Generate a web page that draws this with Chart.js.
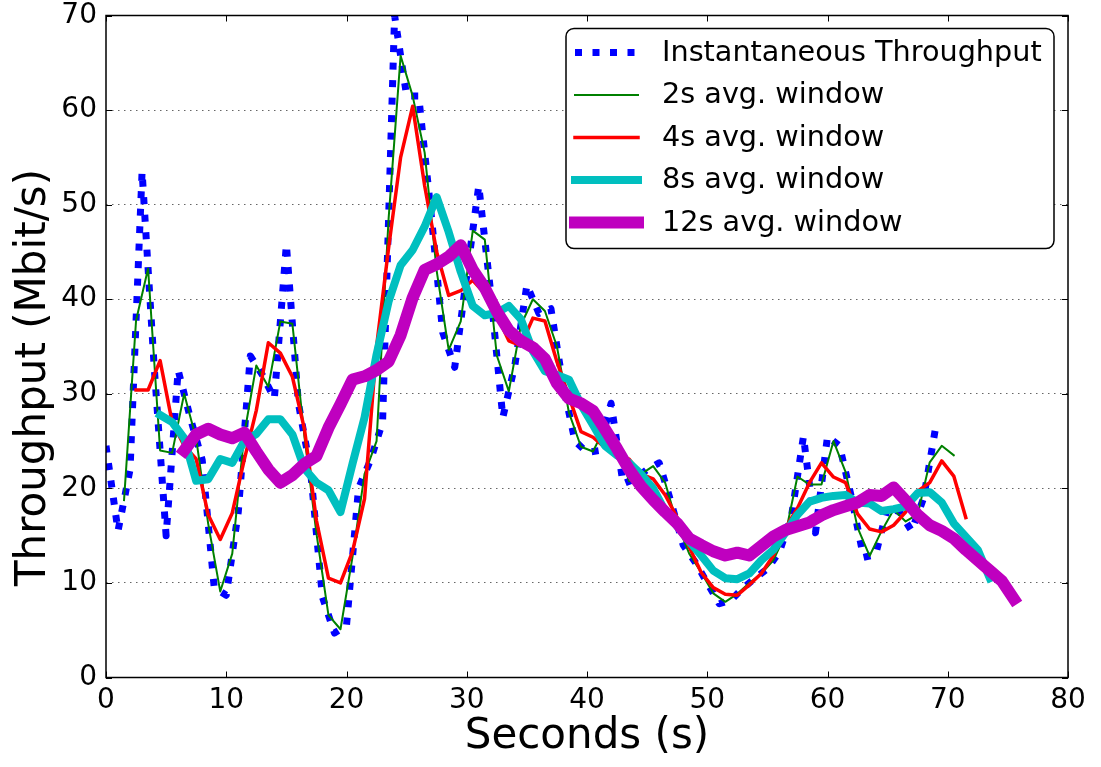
<!DOCTYPE html>
<html>
<head>
<meta charset="utf-8">
<script src="https://cdn.jsdelivr.net/npm/chart.js@4.4.1/dist/chart.umd.min.js"></script>
<style>
  html, body { margin: 0; padding: 0; background: #ffffff; }
  #c { display: block; }
</style>
</head>
<body>
<canvas id="c" width="1101" height="767"></canvas>
<script>
// Throughput samples, one per second (Mbit/s)
const instantStart = 0;
const instantValues = [
  24.5, 15.5, 22, 53.5, 33, 15, 32.5, 27.5, 23, 9.5,
  8.7, 17.5, 34, 32, 29.5, 45.8, 29, 22, 8.5, 4.7,
  5.5, 20, 23, 27, 70, 61.5, 61.5, 49.5, 36.5, 32.8,
  42.5, 52, 40.6, 27.5, 33, 41.5, 38.5, 39, 31, 25,
  23.8, 24, 29, 20.5, 21, 22, 22.7, 18.5, 14, 12.2,
  10, 7.8, 8.2, 9.5, 10.5, 11.5, 13.3, 17, 25.5, 15.3,
  25.5, 24.5, 19, 12.7, 13, 18, 17.5, 15.5, 19, 26.5
];

// Windowed averages, one point per second starting at the given time
const avg2Start = 1.5;
const avg2Values = [
  18.75, 37.75, 43.25, 24, 23.75, 30, 25.25, 16.25, 9.1, 13.1,
  25.75, 33, 30.75, 37.65, 37.4, 25.5, 15.25, 6.6, 5.1, 12.75,
  21.5, 25, 48.5, 65.75, 61.5, 55.5, 43, 34.65, 37.65, 47.25,
  46.3, 34.05, 30.25, 37.25, 40, 38.75, 35, 28, 24.4, 23.9,
  26.5, 24.75, 20.75, 21.5, 22.35, 20.6, 16.25, 13.1, 11.1, 8.9,
  8, 8.85, 10, 11, 12.4, 15.15, 21.25, 20.4, 20.4, 25,
  21.75, 15.85, 12.85, 15.5, 17.75, 16.5, 17.25, 22.75, 24.5, 23.5
];

const avg4Start = 2.5;
const avg4Values = [
  30.4, 30.4, 33.5, 27, 24.5, 23.1, 17.2, 14.6, 17.4, 23.05,
  28.25, 35.4, 34.3, 31.8, 26.3, 16.6, 10.5, 10, 13.3, 18.9,
  35, 45.4, 55, 60.4, 52, 45, 40.4, 40.9, 42, 40.6,
  38.3, 35.6, 35.1, 38, 37.7, 33.4, 29.7, 26, 25.4, 24.3,
  23.6, 23.1, 21.5, 21, 19.3, 16.9, 13.8, 11.1, 9.5, 8.8,
  8.7, 9.8, 11, 12.9, 15.8, 17.9, 20.6, 22.7, 21.2, 20.6,
  17.3, 15.7, 15.4, 16.1, 17.5, 19.7, 20.6, 22.9, 21.3, 16.9
];

const avg8Start = 4.5;
const avg8Values = [
  27.75, 27, 25.3, 20.8, 20.96, 23.1, 22.7, 25, 25.75, 27.3,
  27.3, 25.7, 22.1, 20.6, 19.8, 17.5, 22.6, 27.5, 34.15, 39.75,
  43.6, 45.2, 47.7, 50.8, 47.1, 42.9, 39.3, 38.3, 38.55, 39.3,
  37.9, 34.5, 32.4, 32, 31.5, 28.85, 26.7, 24.5, 23.5, 22.7,
  21.5, 20, 17.6, 16, 14.4, 12.9, 11.3, 10.5, 10.4, 11,
  12.4, 13.5, 15.3, 17.2, 18.6, 19, 19.2, 19.3, 18.5, 18.4,
  17.6, 17.8, 18.1, 19.5, 19.6, 18.5, 16.3, 14.9, 13.5, 10.5
];

const avg12Start = 6.5;
const avg12Values = [
  24, 25.7, 26.3, 25.7, 25.3, 25.9, 23.9, 22, 20.6, 21.4,
  22.6, 23.4, 26.4, 28.9, 31.5, 31.85, 32.5, 33.4, 36.2, 40.15,
  43.1, 43.7, 44.5, 45.7, 43.1, 41.2, 38.7, 36.7, 35.6, 34.9,
  33.7, 31.1, 29.5, 29, 28.2, 26.25, 24.2, 22, 20.2, 18.8,
  17.5, 16.3, 14.7, 14, 13.35, 12.9, 13.2, 12.9, 13.9, 14.9,
  15.6, 16, 16.4, 17.15, 17.7, 18.1, 18.5, 19.3, 19.2, 20.1,
  18.7, 17.2, 16.1, 15.5, 14.7, 13.5, 12.4, 11.3, 10.2, 8.3
];

const xTicks = [0, 10, 20, 30, 40, 50, 60, 70, 80];
const yTicks = [0, 10, 20, 30, 40, 50, 60, 70];
const yTitle = 'Throughput (Mbit/s)';

// one sample per second from the series' first timestamp
function toPoints(start, values) {
  return values.map((v, i) => ({ x: start + i, y: v }));
}

Chart.defaults.font.family = '"DejaVu Sans", sans-serif';
Chart.defaults.color = '#000';

const legendRowGap = 42.5;

// keep the plot box where the axis sizes put it (no extra room for edge labels)
function fixBox(s, w, h) {
  if (w !== null) s.width = w;
  if (h !== null) s.height = h;
  s.paddingTop = 0; s.paddingBottom = 0; s.paddingLeft = 0; s.paddingRight = 0;
}

// frame, inward tick marks on all four sides, y-axis title and the boxed legend
const axesDecor = {
  id: 'axesDecor',
  afterDatasetsDraw(chart) {
    const { ctx, chartArea: a, scales: { x, y } } = chart;
    ctx.save();
    ctx.strokeStyle = '#000';
    ctx.lineWidth = 1;
    ctx.beginPath();
    xTicks.forEach(v => {
      const px = Math.round(x.getPixelForValue(v)) + 0.5;
      ctx.moveTo(px, a.bottom); ctx.lineTo(px, a.bottom - 6);
      ctx.moveTo(px, a.top); ctx.lineTo(px, a.top + 6);
    });
    yTicks.forEach(v => {
      const py = Math.round(y.getPixelForValue(v)) + 0.5;
      ctx.moveTo(a.left, py); ctx.lineTo(a.left + 6, py);
      ctx.moveTo(a.right, py); ctx.lineTo(a.right - 6, py);
    });
    ctx.stroke();
    ctx.lineWidth = 1.5;
    ctx.strokeRect(a.left, a.top, a.right - a.left, a.bottom - a.top);

    // rotated y-axis title
    ctx.translate(34, (a.top + a.bottom) / 2 + 31);
    ctx.rotate(-Math.PI / 2);
    ctx.fillStyle = '#000';
    ctx.font = '42px "DejaVu Sans", sans-serif';
    ctx.textAlign = 'center';
    ctx.textBaseline = 'middle';
    ctx.fillText(yTitle, 0, 0);
    ctx.restore();
  },
  afterDraw(chart) {
    const { ctx, chartArea: a } = chart;
    const boxW = 488, boxH = 220;
    const bx = a.right - 14 - boxW;
    const by = a.top + 13;
    ctx.save();
    ctx.beginPath();
    ctx.roundRect(bx, by, boxW, boxH, 8);
    ctx.fillStyle = '#ffffff';
    ctx.fill();
    ctx.strokeStyle = '#000';
    ctx.lineWidth = 1.5;
    ctx.stroke();

    chart.data.datasets.forEach((ds, i) => {
      const ry = by + 24 + i * legendRowGap;
      ctx.save();
      ctx.beginPath();
      ctx.strokeStyle = ds.borderColor;
      ctx.lineWidth = ds.borderWidth;
      ctx.lineCap = ds.borderCapStyle || 'butt';
      ctx.setLineDash(ds.borderDash || []);
      ctx.moveTo(bx + 9, ry);
      ctx.lineTo(bx + 72, ry);
      ctx.stroke();
      ctx.restore();
      ctx.fillStyle = '#000';
      ctx.font = '28.7px "DejaVu Sans", sans-serif';
      ctx.textAlign = 'left';
      ctx.textBaseline = 'middle';
      ctx.fillText(ds.label, bx + 96, ry + 1);
    });
    ctx.restore();
  }
};

const common = { pointRadius: 0, pointHoverRadius: 0, tension: 0, fill: false, clip: 0, borderJoinStyle: 'round' };

new Chart(document.getElementById('c'), {
  type: 'line',
  data: {
    datasets: [
      Object.assign({}, common, {
        label: 'Instantaneous Throughput',
        data: toPoints(instantStart, instantValues),
        borderColor: '#0000ff', borderWidth: 7,
        borderDash: [7, 10.5], borderCapStyle: 'butt', order: 5
      }),
      Object.assign({}, common, {
        label: '2s avg. window',
        data: toPoints(avg2Start, avg2Values),
        borderColor: '#008000', borderWidth: 2, borderCapStyle: 'square', order: 4
      }),
      Object.assign({}, common, {
        label: '4s avg. window',
        data: toPoints(avg4Start, avg4Values),
        borderColor: '#ff0000', borderWidth: 3.5, borderCapStyle: 'square', order: 3
      }),
      Object.assign({}, common, {
        label: '8s avg. window',
        data: toPoints(avg8Start, avg8Values),
        borderColor: '#00bfbf', borderWidth: 8, borderCapStyle: 'square', order: 2
      }),
      Object.assign({}, common, {
        label: '12s avg. window',
        data: toPoints(avg12Start, avg12Values),
        borderColor: '#bf00bf', borderWidth: 12, borderCapStyle: 'square', order: 1
      })
    ]
  },
  options: {
    responsive: false,
    animation: false,
    devicePixelRatio: 1,
    layout: { padding: { left: 0, right: 33, top: 15.5, bottom: 0 } },
    plugins: { legend: { display: false }, tooltip: { enabled: false } },
    scales: {
      x: {
        type: 'linear', min: 0, max: 80,
        afterFit: s => fixBox(s, null, 89.5),
        afterBuildTicks: s => { s.ticks = xTicks.map(v => ({ value: v })); },
        grid: { display: false, drawTicks: false },
        border: { display: false },
        ticks: { font: { size: 28 }, padding: 6, maxRotation: 0, callback: v => String(v) },
        title: { display: true, text: 'Seconds (s)', font: { size: 42 }, padding: { top: 0, bottom: 5 } }
      },
      y: {
        type: 'linear', min: 0, max: 70,
        afterFit: s => fixBox(s, 106, null),
        afterBuildTicks: s => { s.ticks = yTicks.map(v => ({ value: v })); },
        grid: { color: 'rgba(0,0,0,0.6)', lineWidth: 1, drawTicks: false },
        border: { display: false, dash: [1.5, 4.5] },
        ticks: { font: { size: 28 }, padding: 9, callback: v => String(v) },
        title: { display: false }
      }
    }
  },
  plugins: [axesDecor]
});
</script>
</body>
</html>
